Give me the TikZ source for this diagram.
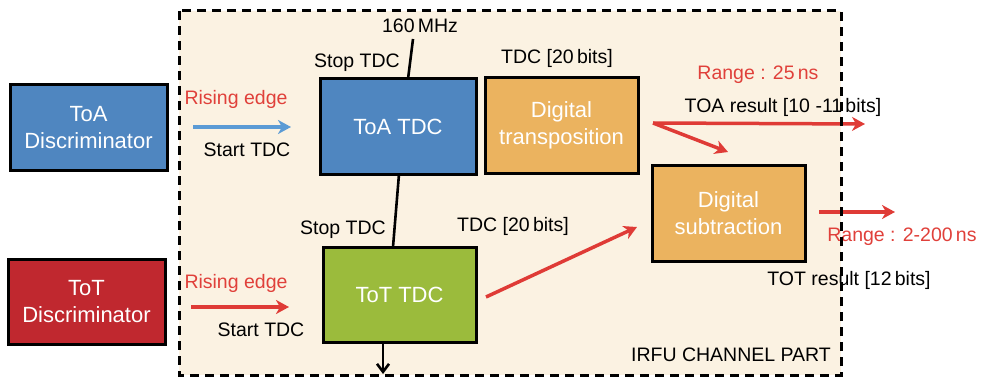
\documentclass[tikz,border=0pt]{standalone}
\usepackage{fontspec}
\setmainfont{Liberation Sans}
\usetikzlibrary{arrows.meta}
\definecolor{cream}{HTML}{FBF2E2}
\definecolor{boxblue}{HTML}{4F86C0}
\definecolor{boxred}{HTML}{C0282F}
\definecolor{boxgreen}{HTML}{9BBB3C}
\definecolor{boxorange}{HTML}{EBB35F}
\definecolor{arrred}{HTML}{DF3B36}
\definecolor{txtred}{HTML}{E0403A}
\definecolor{arrblue}{HTML}{5B9BD5}
\begin{document}
\begin{tikzpicture}[x=1pt,y=-1pt,
  blk/.style={draw=black,line width=3pt,text=white,align=center,
    font=\fontsize{22}{27}\selectfont,inner sep=0pt},
  lbl/.style={font=\fontsize{19.5}{23}\selectfont,inner sep=0pt},
  rlbl/.style={lbl,text=txtred},
  redarr/.style={draw=arrred,line width=3.5pt,-{Stealth[length=13pt,width=14pt,inset=4pt]}},
  bluearr/.style={draw=arrblue,line width=3.5pt,-{Stealth[length=13pt,width=14pt,inset=4pt]}},
  blkline/.style={draw=black,line width=2.6pt},
  frame/.style={draw=black,line width=3pt,dash pattern=on 9pt off 6pt}]
\useasboundingbox (0,0) rectangle (985,377);
\fill[cream] (179,11) rectangle (841,375);

% blocks
\node[blk,fill=boxblue,minimum width=157pt,minimum height=85pt] (toadisc) at (88.5,127.5) {ToA\\Discriminator};
\node[blk,fill=boxred,minimum width=157pt,minimum height=85pt] (totdisc) at (86.5,301.5) {ToT\\Discriminator};
\node[blk,fill=boxblue,minimum width=156pt,minimum height=95pt] (toatdc) at (398,126.5) {ToA TDC};
\node[blk,fill=boxgreen,minimum width=153pt,minimum height=95pt] (tottdc) at (399.5,294.5) {ToT TDC};
\node[blk,fill=boxorange,minimum width=153pt,minimum height=95pt] (trans) at (561.5,125.5) {Digital\\transposition};
\node[blk,fill=boxorange,minimum width=153pt,minimum height=96pt] (sub) at (728.5,213) {Digital\\subtraction};

% labels
\node[lbl] (mhz) at (420,26) {160\,MHz};
\node[lbl] (stop1) at (357,63) {Stop TDC};
\node[lbl] (stop2) at (343,230) {Stop TDC};
\node[rlbl] (rise1) at (236,99) {Rising edge};
\node[lbl] (start1) at (247,150) {Start TDC};
\node[rlbl] (rise2) at (236,283) {Rising edge};
\node[lbl] (start2) at (261,330) {Start TDC};
\node[lbl] (bits1) at (557,58) {TDC [20\,bits]};
\node[lbl] (bits2) at (513,226) {TDC [20\,bits]};
\node[rlbl] (range1) at (758,75) {Range : 25\,ns};
\node[lbl] (toares) at (783,107) {TOA result [10 -11\,bits]};
\node[rlbl] (range2) at (902,237) {Range : 2-200\,ns};
\node[lbl] (totres) at (849,280) {TOT result [12\,bits]};
\node[lbl] (irfu) at (731,355) {IRFU CHANNEL PART};

% coordinates for free ends
\coordinate (a1s) at (193,127);
\coordinate (a1e) at (291,127);
\coordinate (a2s) at (191,307);
\coordinate (a2e) at (289,307);
\coordinate (clk) at (413,39);
\coordinate (clkin) at (408,79);
\coordinate (vtop) at (399,174);
\coordinate (vbot) at (393,247);
\coordinate (outs) at (383,342);
\coordinate (oute) at (383,374);
\coordinate (tr) at (653,123);
\coordinate (toaend) at (865,124);
\coordinate (subin1) at (728,152);
\coordinate (tots) at (486,297);
\coordinate (subin2) at (637,227);
\coordinate (subout) at (819,212);
\coordinate (totend) at (895,212);

% connectors
\draw[bluearr] (a1s) -- (a1e);
\draw[redarr] (a2s) -- (a2e);
\draw[blkline] (clk) -- (clkin);
\draw[blkline] (vtop) -- (vbot);
\draw[blkline,-{Straight Barb[length=8pt,width=12pt]}] (outs) -- (oute);
\draw[redarr] (tr) -- (toaend);
\draw[redarr] (tr) -- (subin1);
\draw[redarr] (tots) -- (subin2);
\draw[redarr] (subout) -- (totend);

% dashed frame on top
\draw[frame] (179,11) rectangle (841,375);
\end{tikzpicture}
\end{document}
